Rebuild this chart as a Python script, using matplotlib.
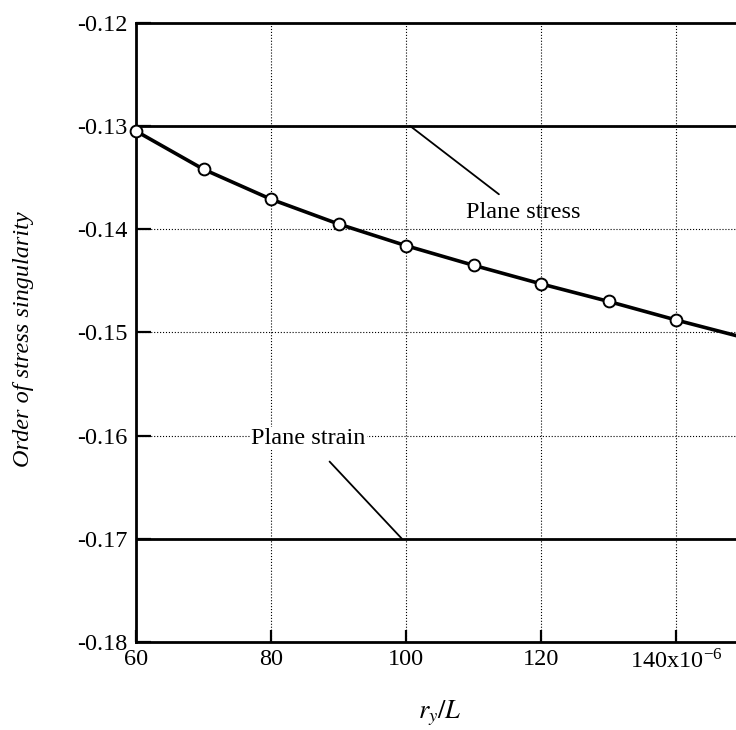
import numpy as np
import matplotlib
matplotlib.use("Agg")
import matplotlib.pyplot as plt

plt.rcParams['font.family'] = ['Liberation Serif', 'DejaVu Serif']
plt.rcParams['mathtext.fontset'] = 'stix'

# data (r_y/L in units of 1e-6)
ry_over_L = [60, 70, 80, 90, 100, 110, 120, 130, 140, 150]
order = [-0.1305, -0.1342, -0.1371, -0.1395, -0.1416, -0.1435, -0.1453, -0.1470, -0.1488, -0.1505]
plane_stress = -0.130
plane_strain = -0.170

xticks = [60, 80, 100, 120, 140]
xticklabels = ['60', '80', '100', '120', r'140x10$^{\mathregular{-6}}$']
yticks = [-0.18, -0.17, -0.16, -0.15, -0.14, -0.13, -0.12]

fig = plt.figure(figsize=(7.36, 7.30), dpi=100)
# axes run past the right edge of the figure, like the cropped scan
ax = fig.add_axes([0.1848, 0.1205, 0.8254, 0.8484])

ax.axhline(plane_stress, color='k', lw=2.0, zorder=3)
ax.axhline(plane_strain, color='k', lw=2.0, zorder=3)
ax.plot(ry_over_L, order, color='k', lw=2.6, marker='o', ms=8.5,
        mfc='white', mec='k', mew=1.4, zorder=4, clip_on=False)

ax.set_xlim(60, 150)
ax.set_ylim(-0.18, -0.12)
ax.set_xticks(xticks)
ax.set_xticklabels(xticklabels)
ax.set_yticks(yticks)
ax.set_yticklabels(['%.2f' % v for v in yticks])

ax.grid(True, ls=':', color='k', lw=0.8)
ax.tick_params(axis='x', direction='in', length=9, width=1.6, labelsize=17.5, pad=5, top=False)
ax.tick_params(axis='y', direction='in', length=11, width=1.6, labelsize=17.5, pad=6, right=False)
for s in ax.spines.values():
    s.set_linewidth(2.0)

ax.annotate('Plane stress', xy=(100.6, plane_stress), xytext=(117.3, -0.1384),
            ha='center', va='center', fontsize=17.5,
            arrowprops=dict(arrowstyle='-', color='k', lw=1.3, shrinkA=6, shrinkB=0))
ax.annotate('Plane strain', xy=(99.4, plane_strain), xytext=(85.5, -0.1603),
            ha='center', va='center', fontsize=17.5,
            arrowprops=dict(arrowstyle='-', color='k', lw=1.3, shrinkA=11, shrinkB=0),
            bbox=dict(boxstyle='square,pad=0.05', fc='white', ec='none'))

ax.set_xlabel(r'$r_y/L$', fontsize=19)
ax.xaxis.set_label_coords(0.5, -0.092)
ax.set_ylabel('Order of stress singularity', fontsize=17.5, style='italic')
ax.yaxis.set_label_coords(-0.168, 0.489)

fig.savefig('out.png', dpi=100)
